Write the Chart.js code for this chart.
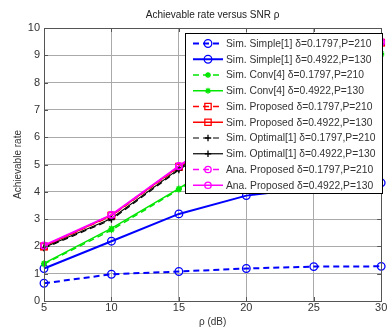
<!DOCTYPE html>
<html>
<head>
<meta charset="utf-8">
<script src="https://cdn.jsdelivr.net/npm/chart.js@4"></script>
<style>
html, body { margin: 0; padding: 0; background: #fff; }
canvas { display: block; }
</style>
</head>
<body>
<canvas id="chart" width="387" height="331"></canvas>
<script>
// SNR points (dB)
const snr = [5, 10, 15, 20, 25, 30]

// achievable rate per scheme
const simpleLow = [0.65, 0.98, 1.08, 1.19, 1.26, 1.27]
const simpleHigh = [1.19, 2.19, 3.19, 3.86, 4.15, 4.33]
const convLow = [1.35, 2.6, 4.08, 5.7, 7.4, 9.02]
const convHigh = [1.38, 2.66, 4.12, 5.75, 7.45, 9.07]
const propLow = [1.99, 3.12, 4.9, 6.6, 8.1, 9.46]
const propHigh = [2.0, 3.14, 4.92, 6.62, 8.12, 9.47]
const optLow = [1.93, 2.98, 4.8, 6.5, 8.0, 9.4]
const optHigh = [1.96, 3.02, 4.84, 6.55, 8.05, 9.42]
const anaLow = [2.02, 3.15, 4.93, 6.63, 8.13, 9.48]
const anaHigh = [2.04, 3.16, 4.95, 6.65, 8.15, 9.49]

const xTicks = [5, 10, 15, 20, 25, 30]
const yTicks = [0, 1, 2, 3, 4, 5, 6, 7, 8, 9, 10]

const series = [
    ['Sim. Simple[1] δ=0.1797,P=210', simpleLow, '#0000ff', true, 'circle'],
    ['Sim. Simple[1] δ=0.4922,P=130', simpleHigh, '#0000ff', false, 'circle'],
    ['Sim. Conv[4] δ=0.1797,P=210', convLow, '#00e600', true, 'star'],
    ['Sim. Conv[4] δ=0.4922,P=130', convHigh, '#00e600', false, 'star'],
    ['Sim. Proposed δ=0.1797,P=210', propLow, '#ff0000', true, 'rect'],
    ['Sim. Proposed δ=0.4922,P=130', propHigh, '#ff0000', false, 'rect'],
    ['Sim. Optimal[1] δ=0.1797,P=210', optLow, '#000000', true, 'cross'],
    ['Sim. Optimal[1] δ=0.4922,P=130', optHigh, '#000000', false, 'cross'],
    ['Ana. Proposed δ=0.1797,P=210', anaLow, '#ff00ff', true, 'circle'],
    ['Ana. Proposed δ=0.4922,P=130', anaHigh, '#ff00ff', false, 'circle'],
]

const lineWidthFor = (color) => color === '#0000ff' ? 2 : (color === '#000000' ? 1.2 : 1.5)
const radiusFor = (marker, color) => marker === 'rect' ? 4.5 : (marker === 'star' ? 3 : (color === '#0000ff' ? 3.8 : 3.2))

const datasets = series.map(([label, values, color, dashed, marker], i) => ({
    label,
    data: snr.map((x, k) => ({x, y: values[k]})),
    borderColor: color,
    backgroundColor: 'transparent',
    borderWidth: lineWidthFor(color),
    borderDash: dashed ? [6, 4] : [],
    pointStyle: marker,
    pointRadius: radiusFor(marker, color),
    pointBorderColor: color,
    pointBackgroundColor: 'transparent',
    pointBorderWidth: 1.3,
    tension: 0,
    clip: false,
    order: -i,
}))


// draw one marker at (x, y)
const drawMarker = (ctx, marker, x, y, r) => {
    ctx.beginPath()
    if (marker === 'circle') {
        ctx.arc(x, y, r, 0, Math.PI * 2)
    } else if (marker === 'rect') {
        const h = r * Math.SQRT1_2
        ctx.rect(x - h, y - h, 2 * h, 2 * h)
    } else if (marker === 'cross') {
        ctx.moveTo(x - r, y); ctx.lineTo(x + r, y)
        ctx.moveTo(x, y - r); ctx.lineTo(x, y + r)
    } else if (marker === 'star') {
        ctx.moveTo(x - r, y); ctx.lineTo(x + r, y)
        ctx.moveTo(x, y - r); ctx.lineTo(x, y + r)
        const d = r * Math.SQRT1_2
        ctx.moveTo(x - d, y - d); ctx.lineTo(x + d, y + d)
        ctx.moveTo(x - d, y + d); ctx.lineTo(x + d, y - d)
    }
    ctx.stroke()
}

// box frame, inner ticks, title and the boxed legend
const frame = {
    id: 'frame',
    afterDatasetsDraw(chart) {
        const {ctx, chartArea: a, scales} = chart
        ctx.save()
        ctx.strokeStyle = '#555'
        ctx.lineWidth = 1
        ctx.strokeRect(Math.round(a.left) + 0.5, Math.round(a.top) + 0.5, Math.round(a.right - a.left), Math.round(a.bottom - a.top))
        ctx.beginPath()
        xTicks.forEach(v => {
            const px = Math.round(scales.x.getPixelForValue(v)) + 0.5
            ctx.moveTo(px, a.top); ctx.lineTo(px, a.top + 4)
            ctx.moveTo(px, a.bottom); ctx.lineTo(px, a.bottom - 4)
        })
        yTicks.forEach(v => {
            const py = Math.round(scales.y.getPixelForValue(v)) + 0.5
            ctx.moveTo(a.left, py); ctx.lineTo(a.left + 4, py)
            ctx.moveTo(a.right, py); ctx.lineTo(a.right - 4, py)
        })
        ctx.stroke()

        // title
        ctx.fillStyle = '#222'
        ctx.font = '10px "Liberation Sans", Arial, sans-serif'
        ctx.textAlign = 'center'
        ctx.textBaseline = 'middle'
        ctx.fillText('Achievable rate versus SNR ρ', (a.left + a.right) / 2, 15)

        // legend
        const lx = 185.5, ly = 33.5, lw = 197, lh = 160, row = 15.75
        ctx.fillStyle = '#fff'
        ctx.fillRect(lx, ly, lw, lh)
        ctx.strokeStyle = '#000'
        ctx.lineWidth = 1
        ctx.strokeRect(lx, ly, lw, lh)
        ctx.font = '10.3px "Liberation Sans", Arial, sans-serif'
        ctx.textAlign = 'left'
        series.forEach(([label, , color, dashed, marker], i) => {
            const y = 43.5 + i * row
            ctx.strokeStyle = color
            ctx.lineWidth = lineWidthFor(color)
            ctx.setLineDash(dashed ? [6, 4] : [])
            ctx.beginPath()
            ctx.moveTo(193, y); ctx.lineTo(223, y)
            ctx.stroke()
            ctx.setLineDash([])
            ctx.lineWidth = 1.3
            drawMarker(ctx, marker, 208, y, radiusFor(marker, color))
            ctx.fillStyle = '#333'
            ctx.fillText(label, 226, y + 0.5)
        })
        ctx.restore()
    }
}

const tickFont = {family: '"Liberation Sans", Arial, sans-serif', size: 11}

new Chart(document.getElementById('chart'), {
    type: 'line',
    data: {datasets},
    options: {
        responsive: false,
        animation: false,
        devicePixelRatio: 1,
        layout: {padding: {top: 28, right: 3, left: 0, bottom: 0}},
        plugins: {
            legend: {display: false},
            title: {display: false},
            tooltip: {enabled: false},
        },
        scales: {
            x: {
                type: 'linear',
                min: 5, max: 30,
                border: {display: false},
                grid: {color: '#aaa', borderDash: [1, 2], drawTicks: false, lineWidth: 1},
                ticks: {stepSize: 5, color: '#333', font: tickFont, padding: 0, maxRotation: 0},
                title: {display: true, text: 'ρ (dB)', color: '#333', font: {family: tickFont.family, size: 10}, padding: {top: 0, bottom: 3}},
                afterFit(scale) {
                    scale.height = 30
                    scale.paddingLeft = 0
                    scale.paddingRight = 0
                },
            },
            y: {
                min: 0, max: 10,
                border: {display: false},
                grid: {color: '#aaa', borderDash: [1, 2], drawTicks: false, lineWidth: 1},
                ticks: {stepSize: 1, color: '#333', font: tickFont, padding: 4},
                title: {display: true, text: 'Achievable rate', color: '#333', font: {family: tickFont.family, size: 10}, padding: {top: 12, bottom: 0}},
                afterFit(scale) {
                    scale.width = 44
                    scale.paddingTop = 0
                    scale.paddingBottom = 0
                },
            },
        },
    },
    plugins: [frame],
})
</script>
</body>
</html>
